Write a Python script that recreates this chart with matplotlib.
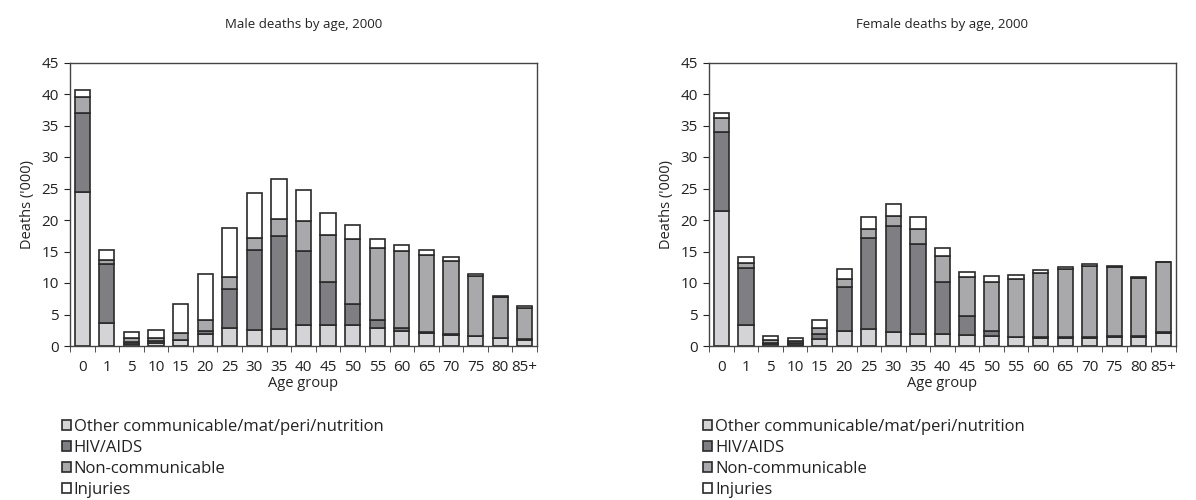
import matplotlib
matplotlib.use("Agg")
import matplotlib.pyplot as plt
import numpy as np

age_groups = ["0", "1", "5", "10", "15", "20", "25", "30", "35", "40", "45",
              "50", "55", "60", "65", "70", "75", "80", "85+"]
series_names = ["Other communicable/mat/peri/nutrition", "HIV/AIDS",
                "Non-communicable", "Injuries"]

male_other = [24.5, 3.7, 0.3, 0.5, 0.9, 1.9, 2.9, 2.5, 2.7, 3.4, 3.4, 3.4, 2.9, 2.4, 2.1, 1.8, 1.6, 1.2, 1.0]
male_hiv = [12.5, 9.3, 0.4, 0.3, 0.1, 0.5, 6.2, 12.7, 14.7, 11.7, 6.7, 3.3, 1.2, 0.5, 0.1, 0.05, 0.05, 0.05, 0.05]
male_ncd = [2.6, 0.7, 0.5, 0.5, 1.1, 1.7, 1.9, 1.9, 2.7, 4.7, 7.5, 10.3, 11.5, 12.2, 12.3, 11.65, 9.45, 6.55, 5.05]
male_inj = [1.0, 1.6, 1.1, 1.2, 4.5, 7.4, 7.8, 7.2, 6.4, 5.0, 3.5, 2.2, 1.4, 1.0, 0.7, 0.6, 0.3, 0.2, 0.3]

female_other = [21.5, 3.4, 0.25, 0.2, 1.1, 2.4, 2.75, 2.3, 1.9, 1.9, 1.7, 1.6, 1.4, 1.3, 1.3, 1.3, 1.5, 1.5, 2.1]
female_hiv = [12.5, 9.0, 0.25, 0.25, 0.75, 7.0, 14.45, 16.7, 14.3, 8.2, 3.0, 0.8, 0.1, 0.05, 0.05, 0.05, 0.05, 0.05, 0.05]
female_ncd = [2.2, 0.8, 0.45, 0.35, 0.95, 1.2, 1.4, 1.6, 2.4, 4.2, 6.2, 7.8, 9.2, 10.3, 10.85, 11.35, 10.95, 9.25, 11.2]
female_inj = [0.8, 0.9, 0.65, 0.5, 1.25, 1.6, 1.8, 1.9, 1.9, 1.3, 0.8, 0.9, 0.6, 0.35, 0.35, 0.3, 0.15, 0.2, 0.05]

colors = ["#d4d4d6", "#7f7f83", "#a9a9ac", "#ffffff"]
edge = "#2a2a2a"
plt.rcParams['font.family'] = ["Open Sans", 'DejaVu Sans']

fig = plt.figure(figsize=(11.96, 5.0), dpi=100)

def draw(ax_rect, title, data, legend_x):
    ax = fig.add_axes(ax_rect)
    x = np.arange(len(age_groups))
    bottom = np.zeros(len(age_groups))
    handles = []
    for vals, c, name in zip(data, colors, series_names):
        v = np.array(vals)
        b = ax.bar(x, v, bottom=bottom, width=0.62, color=c, edgecolor=edge,
                   linewidth=1.2, label=name)
        handles.append(b)
        bottom += v
    ax.set_xlim(-0.5, len(age_groups) - 0.5)
    ax.set_ylim(0, 45)
    ax.set_yticks(np.arange(0, 46, 5))
    ax.set_xticks(x)
    ax.set_xticklabels(age_groups)
    ax.set_xticks(np.arange(-0.5, len(age_groups), 1.0), minor=True)
    ax.tick_params(axis='x', which='major', length=0, labelsize=11, pad=10, colors="#222222")
    ax.tick_params(axis='x', which='minor', length=4, direction='out', color="#333333")
    ax.tick_params(axis='y', length=4, direction='out', labelsize=11, colors="#222222", pad=4)
    for s in ax.spines.values():
        s.set_color("#444444")
        s.set_linewidth(1.0)
    ax.set_title(title, fontsize=9.5, pad=25, color="#222222")
    ax.set_ylabel("Deaths ('000)", fontsize=10.5, color="#222222", labelpad=5)
    ax.set_xlabel("Age group", fontsize=10.5, color="#222222", labelpad=1)
    leg = ax.legend(handles, series_names, loc='upper left',
                    bbox_to_anchor=(legend_x, 0.162), bbox_transform=fig.transFigure,
                    frameon=False, fontsize=12, handlelength=0.5, handleheight=0.5,
                    handletextpad=0.2, labelspacing=0.3, borderaxespad=0, borderpad=0)
    for t in leg.get_texts():
        t.set_color("#222222")
    return ax

draw([0.0585, 0.308, 0.3905, 0.567], "Male deaths by age, 2000",
     [male_other, male_hiv, male_ncd, male_inj], 0.052)
draw([0.593, 0.308, 0.390, 0.567], "Female deaths by age, 2000",
     [female_other, female_hiv, female_ncd, female_inj], 0.588)

fig.savefig("out.png", dpi=100)
